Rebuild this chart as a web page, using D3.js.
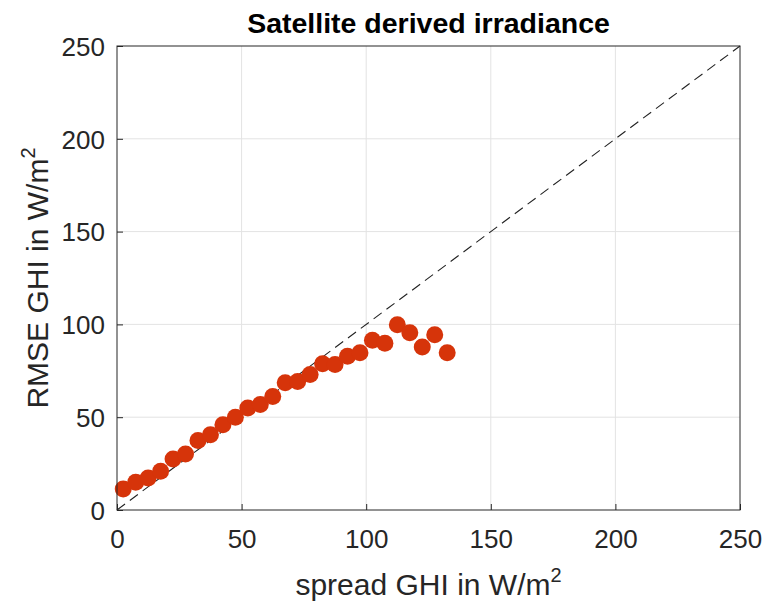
<!DOCTYPE html>
<html><head><meta charset="utf-8">
<script src="https://cdn.jsdelivr.net/npm/d3@7"></script>
<style>body{margin:0;background:#fff;} svg{display:block;}</style>
</head><body>
<svg id="c" width="769" height="601"></svg>
<script>
const spreadGHI = [2.5,7.5,12.5,17.5,22.5,27.5,32.5,37.5,42.5,47.5,52.5,57.5,62.5,67.5,72.5,77.5,82.5,87.5,92.5,97.5,102.5,107.5,112.5,117.5,122.5,127.5,132.5];
const rmseGHI   = [11.3,14.9,17.3,20.9,27.5,30.2,37.4,40.5,45.9,50.0,55.0,56.8,61.2,68.5,69.2,73.0,78.8,78.4,82.9,84.7,91.4,89.9,99.8,95.5,87.8,94.4,84.7];
const xTicks = [0,50,100,150,200,250];
const yTicks = [0,50,100,150,200,250];
const titleText = "Satellite derived irradiance";

const svg = d3.select("#c");
const L=117, R=740, T=46, B=510;
const x = d3.scaleLinear().domain([0,250]).range([L,R]);
const y = d3.scaleLinear().domain([0,250]).range([B,T]);
const font = "'Liberation Sans', Arial, Helvetica, sans-serif";

// grid
svg.append("g").selectAll("line").data(xTicks.slice(1,-1)).join("line")
  .attr("x1",d=>x(d)).attr("x2",d=>x(d)).attr("y1",T).attr("y2",B)
  .attr("stroke","#e3e3e3").attr("stroke-width",1);
svg.append("g").selectAll("line").data(yTicks.slice(1,-1)).join("line")
  .attr("y1",d=>y(d)).attr("y2",d=>y(d)).attr("x1",L).attr("x2",R)
  .attr("stroke","#e3e3e3").attr("stroke-width",1);

// diagonal
svg.append("line").attr("x1",x(0)).attr("y1",y(0)).attr("x2",x(250)).attr("y2",y(250))
  .attr("stroke","#222").attr("stroke-width",1.1).attr("stroke-dasharray","10,6");

// points
svg.append("g").selectAll("circle").data(spreadGHI.map((v,i)=>[v,rmseGHI[i]])).join("circle")
  .attr("cx",d=>x(d[0])).attr("cy",d=>y(d[1])).attr("r",8.5)
  .attr("fill","#d6340a");

// axes
const xAxis = d3.axisBottom(x).tickValues(xTicks).tickSizeInner(-6).tickSizeOuter(0).tickPadding(12);
const yAxis = d3.axisLeft(y).tickValues(yTicks).tickSizeInner(-6).tickSizeOuter(0).tickPadding(12);
const gx = svg.append("g").attr("transform",`translate(0,${B})`).call(xAxis);
const gy = svg.append("g").attr("transform",`translate(${L},0)`).call(yAxis);
[gx,gy].forEach(g=>{
  g.select(".domain").remove();
  g.selectAll(".tick line").attr("stroke","#262626");
  g.selectAll(".tick text").attr("fill","#262626").style("font-family",font).style("font-size","26px");
});
gx.selectAll(".tick text").attr("dy",null).attr("y",38);
gy.selectAll(".tick text").attr("dy","0.36em");
// box
svg.append("rect").attr("x",L).attr("y",T).attr("width",R-L).attr("height",B-T)
  .attr("fill","none").attr("stroke","#262626").attr("stroke-width",1);

// title
svg.append("text").attr("x",(L+R)/2).attr("y",33).attr("text-anchor","middle")
  .style("font-family",font).style("font-size","28.5px").style("font-weight","bold").attr("fill","#000")
  .text(titleText);

// x label
const xl = svg.append("text").attr("x",(L+R)/2).attr("y",595).attr("text-anchor","middle")
  .style("font-family",font).style("font-size","30px").attr("fill","#262626");
xl.append("tspan").text("spread GHI in W/m");
xl.append("tspan").attr("dy",-13).style("font-size","20px").text("2");

// y label
const yl = svg.append("text").attr("transform",`translate(48,${(T+B)/2}) rotate(-90)`).attr("text-anchor","middle")
  .style("font-family",font).style("font-size","30px").attr("fill","#262626");
yl.append("tspan").text("RMSE GHI in W/m");
yl.append("tspan").attr("dy",-13).style("font-size","20px").text("2");
</script>
</body></html>
